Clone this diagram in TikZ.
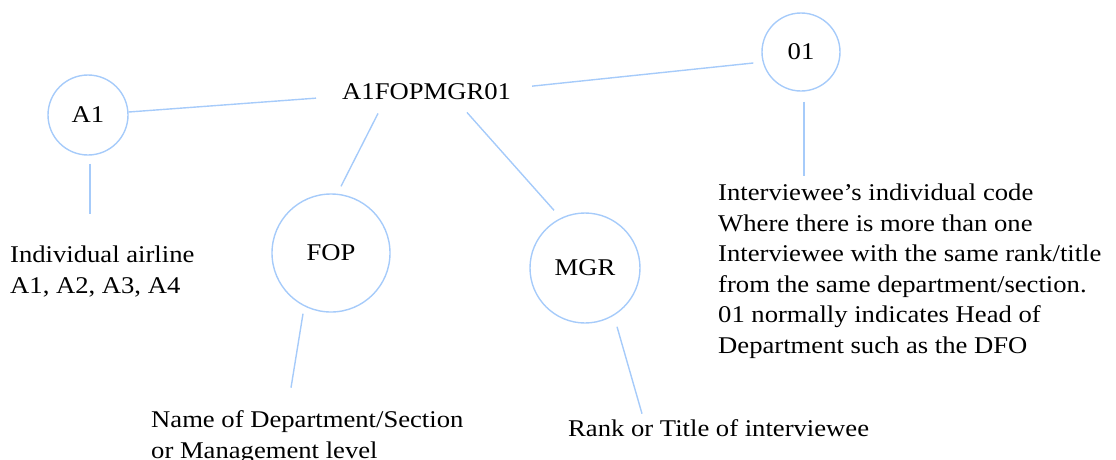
\documentclass[tikz,border=0pt]{standalone}
\usepackage{fontspec}
\setmainfont[FakeStretch=1.11]{Liberation Serif}
\usetikzlibrary{calc}
\definecolor{linkblue}{RGB}{166,203,250}
\begin{document}
\begin{tikzpicture}[x=1pt,y=-1pt,
  every node/.style={font=\fontsize{24}{30.5}\selectfont, text=black},
  part/.style={circle, draw=linkblue, line width=1.4pt, inner sep=0pt},
  note/.style={anchor=base west, align=left, inner sep=0pt},
  link/.style={draw=linkblue, line width=1.4pt}]
  \useasboundingbox (0,0) rectangle (1116,459);

  % the full code and its four parts
  \node[anchor=base west, inner sep=0pt] (code) at (342,99) {A1FOPMGR01};
  \node[part, minimum size=80pt]  (A1)  at (88,115)  {A1};
  \node[part, minimum size=118pt] (FOP) at (331,253) {FOP};
  \node[part, minimum size=110pt] (MGR) at (585,268) {MGR};
  \node[part, minimum size=78pt]  (ID)  at (801,52)  {01};

  % explanations (base anchor sits below the last line)
  \node[note] (airline) at (10,293) {Individual airline\\A1, A2, A3, A4};
  \node[note] (dept) at (151,458) {Name of Department/Section\\or Management level};
  \node[note] (rank) at (568,436) {Rank or Title of interviewee};
  \node[note] (indiv) at (718,353) {Interviewee's individual code\\Where there is more than one\\Interviewee with the same rank/title\\from the same department/section.\\01 normally indicates Head of\\Department such as the DFO};

  % code to parts
  \draw[link] (A1.east) ++(0,-3) -- ($(code.west)+(-26,7)$);
  \draw[link] ($(code.east)+(21,-5)$) -- ($(ID.west)+(-8,11)$);
  \draw[link] ($(code.south west)+(36,14)$) -- ($(FOP.north)+(10,-7)$);
  \draw[link] ($(code.south west)+(125,13)$) -- ($(MGR.north)+(-31,-2)$);

  % parts to explanations
  \draw[link] ($(A1.south)+(2,8)$) -- ($(A1.south)+(2,58)$);
  \draw[link] ($(ID.south)+(3,10)$) -- ($(ID.south)+(3,84)$);
  \draw[link] ($(FOP.south)+(-28,1)$) -- ($(FOP.south)+(-40,75)$);
  \draw[link] ($(MGR.south)+(32,3)$) -- ($(MGR.south)+(57,90)$);
\end{tikzpicture}
\end{document}
